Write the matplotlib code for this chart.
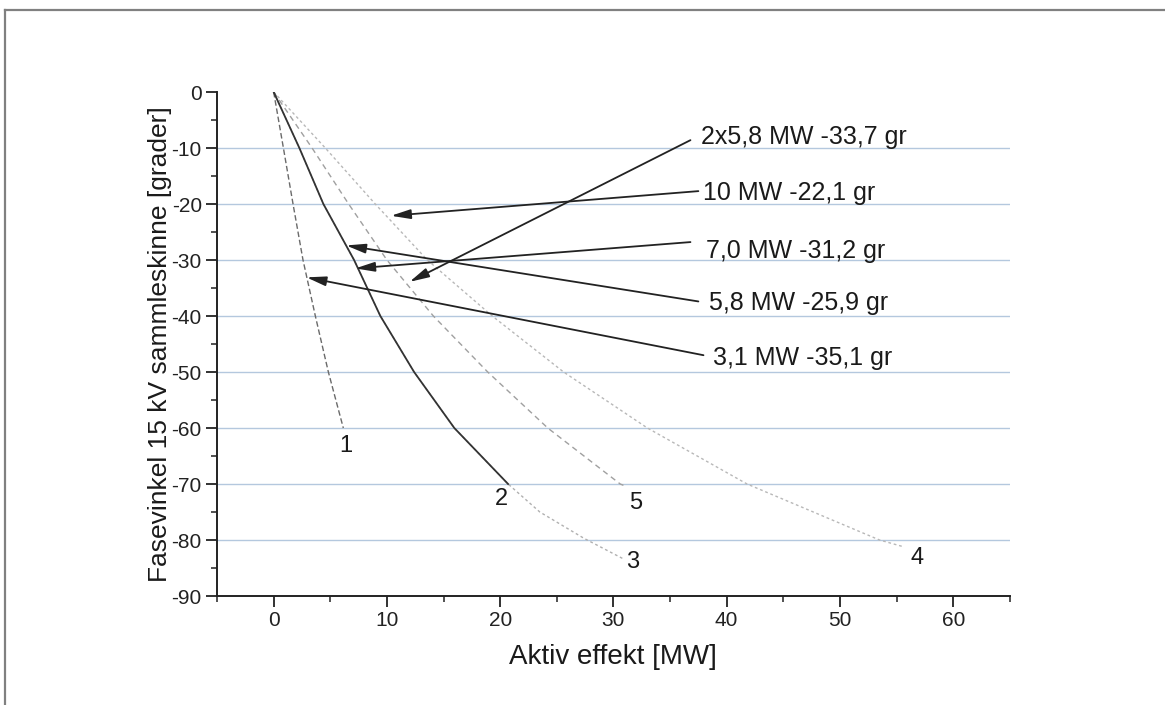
import matplotlib
matplotlib.use("Agg")
import matplotlib.pyplot as plt
from matplotlib.lines import Line2D

plt.rcParams['font.family'] = ['Liberation Sans', 'DejaVu Sans']
plt.rcParams['axes.unicode_minus'] = False

# curves (active power MW, phase angle deg)
c1_x = [0, 0.86, 1.71, 2.59, 3.68, 4.83, 6.15]
c1_y = [0, -10, -20, -30, -40, -50, -60]
c2_x = [0, 2.27, 4.39, 7.10, 9.42, 12.4, 15.95, 20.7]
c2_y = [0, -10, -20, -30, -40, -50, -60, -70]
c3_x = [0, 2.27, 4.39, 7.10, 9.42, 12.4, 15.95, 20.7, 23.5, 27.4, 31.0]
c3_y = [0, -10, -20, -30, -40, -50, -60, -70, -75, -79.7, -83.5]
c4_x = [0, 4.56, 8.97, 13.57, 19.3, 25.6, 33.0, 41.8, 53.5, 55.6]
c4_y = [0, -10, -20, -30, -40, -50, -60, -70, -80, -81.2]
c5_x = [0, 3.39, 6.62, 10.0, 14.1, 18.9, 24.2, 30.6, 31.2]
c5_y = [0, -10, -20, -30, -40, -50, -60, -70, -70.5]

curve_labels = ["1", "2", "3", "4", "5"]
curve_label_x = [6.4, 20.1, 31.7, 56.8, 32.0]
curve_label_y = [-63.2, -72.7, -83.9, -83.3, -73.4]

notes = ["2x5,8 MW -33,7 gr", "10 MW -22,1 gr", "7,0 MW -31,2 gr",
         "5,8 MW -25,9 gr", "3,1 MW -35,1 gr"]
note_x = [37.7, 37.95, 38.2, 38.4, 38.8]
note_y = [-9.2, -19.2, -29.6, -38.9, -48.75]
tail_x = [36.8, 37.5, 36.8, 37.5, 37.95]
tail_y = [-8.6, -17.7, -26.8, -37.4, -47.0]
head_x = [12.0, 10.36, 7.2, 6.4, 2.9]
head_y = [-33.9, -22.1, -31.5, -27.4, -33.1]

fig = plt.figure(figsize=(11.65, 7.05), dpi=100)
ax = fig.add_axes([0.1863, 0.1546, 0.6805, 0.7149])

# outer frame of the original figure
fig.add_artist(Line2D([0.004, 0.004], [0.0, 0.986], color="#808080", lw=1.6))
fig.add_artist(Line2D([0.004, 1.0], [0.986, 0.986], color="#808080", lw=1.6))

ax.plot(c4_x, c4_y, color="#b8b8b8", lw=1.0, ls=(0, (2, 2)))
ax.plot(c3_x, c3_y, color="#b0b0b0", lw=1.0, ls=(0, (2, 2)))
ax.plot(c5_x, c5_y, color="#a0a0a0", lw=1.0, ls=(0, (4, 3)))
ax.plot(c1_x, c1_y, color="#6a6a6a", lw=1.0, ls=(0, (4, 2)))
ax.plot(c2_x, c2_y, color="#333333", lw=1.3)

for lab, x, y in zip(curve_labels, curve_label_x, curve_label_y):
    ax.text(x, y, lab, fontsize=17, ha="center", va="center", color="#1a1a1a")

for t, x, y, tx, ty, hx, hy in zip(notes, note_x, note_y, tail_x, tail_y, head_x, head_y):
    ax.annotate("", xy=(hx, hy), xytext=(tx, ty),
                arrowprops=dict(arrowstyle="-|>,head_length=0.9,head_width=0.22",
                                color="#222222", lw=1.3, shrinkA=0, shrinkB=0,
                                mutation_scale=13))
    ax.text(x, y, t, fontsize=18, ha="left", va="baseline", color="#1a1a1a")

ax.set_xlim(-5, 65)
ax.set_ylim(-90, 0)
ax.set_xticks(range(0, 61, 10))
ax.set_xticks(range(-5, 66, 10), minor=True)
ax.set_yticks(range(-90, 1, 10))
ax.set_yticks(range(-85, 0, 10), minor=True)

ax.grid(axis="y", color="#b4c8de", lw=1.0)
ax.get_ygridlines()[-1].set_visible(False)
ax.get_ygridlines()[0].set_visible(False)

for side in ["top", "right"]:
    ax.spines[side].set_visible(False)
for side in ["left", "bottom"]:
    ax.spines[side].set_linewidth(1.4)
    ax.spines[side].set_color("#222222")

ax.tick_params(which="major", direction="out", length=8, width=1.3, labelsize=15,
               colors="#222222", pad=3)
ax.tick_params(which="minor", direction="out", length=4, width=1.1, colors="#222222")

ax.set_xlabel("Aktiv effekt [MW]", fontsize=20, color="#1a1a1a", labelpad=10)
ax.set_ylabel("Fasevinkel 15 kV sammleskinne [grader]", fontsize=19, color="#1a1a1a",
              labelpad=0)

fig.savefig("out.png", dpi=100)
